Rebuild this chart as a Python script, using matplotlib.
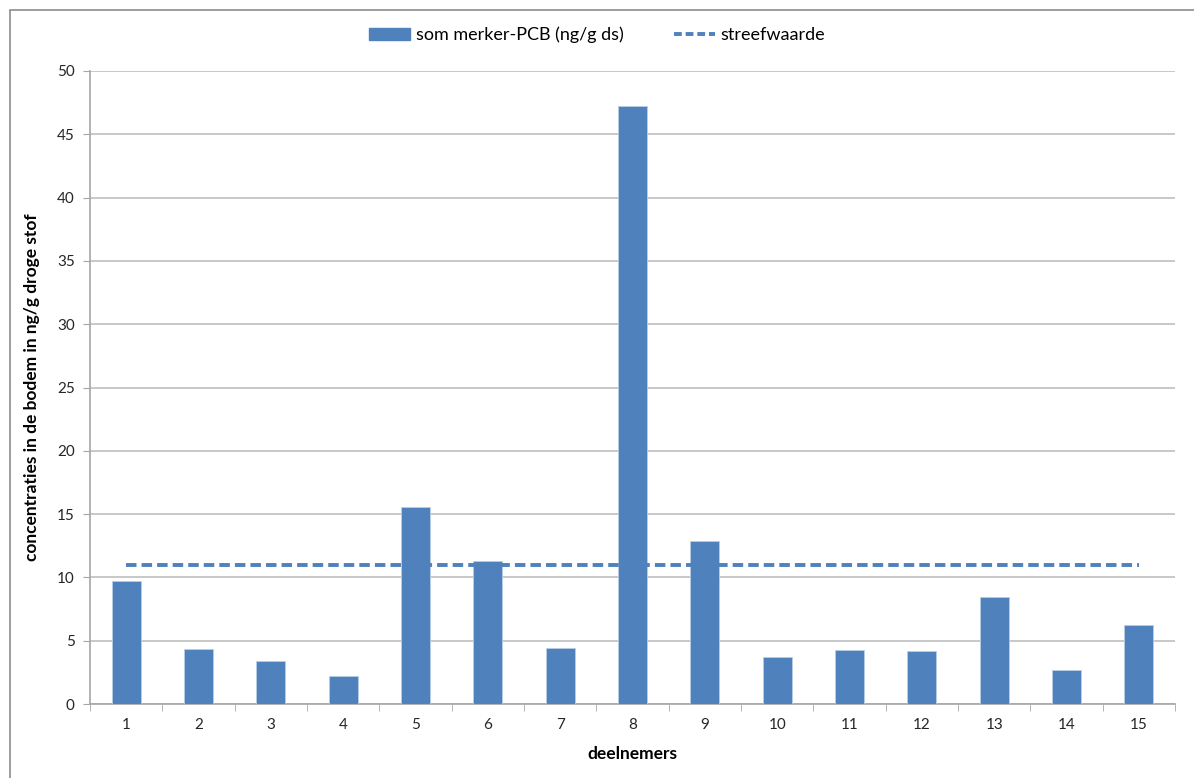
import numpy as np
import matplotlib.pyplot as plt
from matplotlib.patches import Rectangle
from matplotlib.lines import Line2D

plt.rcParams['font.family'] = ['Lato', 'DejaVu Sans']

# deelnemers en gemeten som merker-PCB (ng/g ds)
deelnemers = list(range(1, 16))
som_pcb = [9.74, 4.37, 3.40, 2.24, 15.59, 11.3, 4.4, 47.23, 12.87,
           3.71, 4.27, 4.21, 8.45, 2.69, 6.24]
streefwaarde = 11.0

blauw = "#4F81BD"
grijs = "#A6A6A6"

fig = plt.figure(figsize=(11.94, 7.78), dpi=100)
ax = fig.add_axes([90 / 1194, 1 - 704 / 778, 1085 / 1194, 633 / 778])

# kader rond de grafiek
fig.patches.append(Rectangle((10 / 1194, -0.1), 1.2, 1.1 - 10 / 778,
                             transform=fig.transFigure, fill=False,
                             edgecolor="#8C8C8C", linewidth=1.2, zorder=0))

ax.bar(deelnemers, som_pcb, width=0.4, color=blauw, edgecolor="#B9CDE5",
       linewidth=0.6, zorder=3, label="som merker-PCB (ng/g ds)")
ax.plot([deelnemers[0], deelnemers[-1]], [streefwaarde, streefwaarde],
        color=blauw, linestyle=(0, (2.7, 1.3)), linewidth=2.8, zorder=4,
        label="streefwaarde")

ax.set_xlim(0.5, 15.5)
ax.set_ylim(0, 50)
ax.set_yticks(np.arange(0, 51, 5))
ax.set_xticks(deelnemers)
ax.set_xticks(np.arange(0.5, 15.6, 1), minor=True)
ax.tick_params(axis="x", which="major", length=0, pad=10, labelsize=11)
ax.tick_params(axis="x", which="minor", length=5, color=grijs, direction="out")
ax.tick_params(axis="y", length=5, color=grijs, labelsize=11, pad=6)
for lbl in ax.get_xticklabels() + ax.get_yticklabels():
    lbl.set_color("#262626")

ax.grid(axis="y", color="#BFBFBF", linewidth=1.2, zorder=0)
for side in ["top", "right"]:
    ax.spines[side].set_visible(False)
for side in ["left", "bottom"]:
    ax.spines[side].set_color(grijs)
    ax.spines[side].set_linewidth(1.2)

ax.set_xlabel("deelnemers", fontsize=12.5, fontweight="bold", labelpad=10)
ax.set_ylabel("concentraties in de bodem in ng/g droge stof", fontsize=12.5,
              fontweight="bold", labelpad=12)

handles = [Rectangle((0, 0), 1, 1, color=blauw),
           Line2D([0], [0], color=blauw, linestyle=(0, (2, 1)), linewidth=2.8)]
fig.legend(handles, ["som merker-PCB (ng/g ds)", "streefwaarde"],
           loc="center", bbox_to_anchor=(0.5, 1 - 35 / 778), ncol=2,
           frameon=False, fontsize=13, handlelength=2.3, columnspacing=2.8,
           handletextpad=0.3)

fig.savefig("out.png", dpi=100)
